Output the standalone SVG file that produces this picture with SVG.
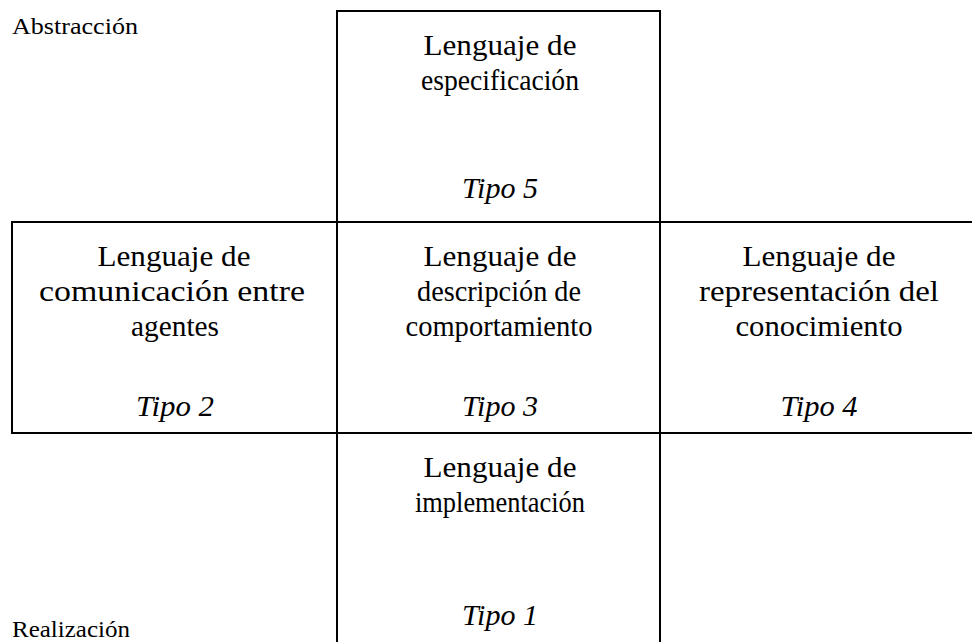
<svg xmlns="http://www.w3.org/2000/svg" width="972" height="642" viewBox="0 0 972 642">
<style>
.box{fill:#fff;stroke:#000;stroke-width:2}
.t{font-family:"Liberation Serif","Times New Roman",serif;font-size:29px;fill:#000;text-anchor:middle}
.i{font-style:italic}
.s{font-family:"Liberation Serif","Times New Roman",serif;font-size:23px;fill:#000}
</style>
<rect width="972" height="642" fill="#fff"/>
<text class="s" x="12" y="34" textLength="126" lengthAdjust="spacingAndGlyphs">Abstracción</text>
<text class="s" x="12" y="637" textLength="118" lengthAdjust="spacingAndGlyphs">Realización</text>
<g id="tipo5">
<rect class="box" x="337" y="11" width="323" height="211"/>
<text class="t" x="500" y="55" textLength="153" lengthAdjust="spacingAndGlyphs">Lenguaje de</text>
<text class="t" x="500" y="90" textLength="158" lengthAdjust="spacingAndGlyphs">especificación</text>
<text class="t i" x="500" y="198" textLength="76" lengthAdjust="spacingAndGlyphs">Tipo 5</text>
</g>
<g id="tipo2">
<rect class="box" x="12" y="222" width="325" height="211"/>
<text class="t" x="174" y="266" textLength="153" lengthAdjust="spacingAndGlyphs">Lenguaje de</text>
<text class="t" x="172" y="301" textLength="266" lengthAdjust="spacingAndGlyphs">comunicación entre</text>
<text class="t" x="175" y="336" textLength="88" lengthAdjust="spacingAndGlyphs">agentes</text>
<text class="t i" x="175" y="416" textLength="78" lengthAdjust="spacingAndGlyphs">Tipo 2</text>
</g>
<g id="tipo3">
<rect class="box" x="337" y="222" width="323" height="211"/>
<text class="t" x="500" y="266" textLength="153" lengthAdjust="spacingAndGlyphs">Lenguaje de</text>
<text class="t" x="499" y="301" textLength="164" lengthAdjust="spacingAndGlyphs">descripción de</text>
<text class="t" x="499" y="336" textLength="187" lengthAdjust="spacingAndGlyphs">comportamiento</text>
<text class="t i" x="500" y="416" textLength="76" lengthAdjust="spacingAndGlyphs">Tipo 3</text>
</g>
<g id="tipo4">
<rect class="box" x="660" y="222" width="330" height="211"/>
<text class="t" x="819" y="266" textLength="153" lengthAdjust="spacingAndGlyphs">Lenguaje de</text>
<text class="t" x="819" y="301" textLength="240" lengthAdjust="spacingAndGlyphs">representación del</text>
<text class="t" x="819" y="336" textLength="167" lengthAdjust="spacingAndGlyphs">conocimiento</text>
<text class="t i" x="819" y="416" textLength="77" lengthAdjust="spacingAndGlyphs">Tipo 4</text>
</g>
<g id="tipo1">
<rect class="box" x="337" y="433" width="323" height="220"/>
<text class="t" x="500" y="477" textLength="153" lengthAdjust="spacingAndGlyphs">Lenguaje de</text>
<text class="t" x="500" y="512" textLength="170" lengthAdjust="spacingAndGlyphs">implementación</text>
<text class="t i" x="500" y="625" textLength="76" lengthAdjust="spacingAndGlyphs">Tipo 1</text>
</g>
<g id="connectors"></g>
</svg>
